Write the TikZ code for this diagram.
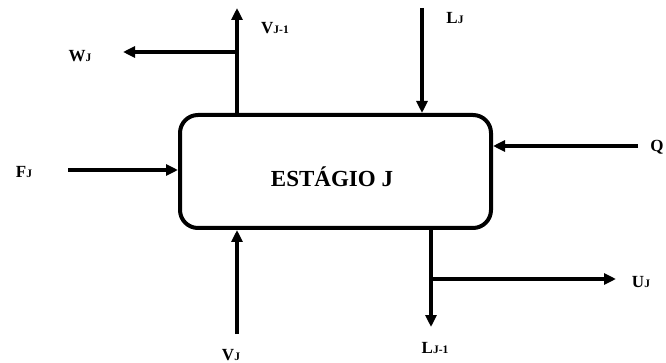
\documentclass[tikz,border=0pt]{standalone}
\usepackage{fontspec}
\setmainfont{Liberation Serif}
\usetikzlibrary{arrows.meta}
\newcommand\lsub[1]{{\fontsize{11.5}{11.5}\selectfont #1}}
\begin{document}
\begin{tikzpicture}[x=1pt,y=-1pt,
  flow/.style={line width=3.2pt,-{Triangle[length=12pt,width=11pt]}},
  lbl/.style={font=\fontsize{17}{17}\selectfont\bfseries, inner sep=0pt},
  stage/.style={draw,line width=4pt,rounded corners=18pt,minimum width=311pt,minimum height=113pt,inner sep=0pt}]
\useasboundingbox (0,0) rectangle (666,363);
\node[stage] (st) at (335.5,171.5) {};
\node[font=\fontsize{23}{23}\selectfont\bfseries, inner sep=0pt] (title) at (332,177) {ESTÁGIO J};

\coordinate (vtop) at (237,8);
\coordinate (wend) at (123,52);
\coordinate (ltop) at (422,8);
\coordinate (fstart) at (68,170);
\coordinate (qstart) at (638,146);
\coordinate (vbot) at (237,334);
\coordinate (lbot) at (431,327);
\coordinate (uend) at (616,279);

\draw[flow] (st.north -| vtop) -- (vtop);
\draw[flow] (vtop |- wend) -- (wend);
\draw[flow] (ltop) -- (ltop |- st.north);
\draw[flow] (fstart) -- (fstart -| st.west);
\draw[flow] (qstart) -- (qstart -| st.east);
\draw[flow] (vbot) -- (vbot |- st.south);
\draw[flow] (st.south -| lbot) -- (lbot);
\draw[flow] (lbot |- uend) -- (uend);

\node[lbl] (lvj1) at (275,28) {V\lsub{J-1}};
\node[lbl] (lwj) at (80,56) {W\lsub{J}};
\node[lbl] (lfj) at (24,172) {F\lsub{J}};
\node[lbl] (llj) at (455,18) {L\lsub{J}};
\node[lbl] (lq) at (657,147) {Q};
\node[lbl] (lvj) at (231,355) {V\lsub{J}};
\node[lbl] (luj) at (641,282) {U\lsub{J}};
\node[lbl] (llj1) at (435,348) {L\lsub{J-1}};
\end{tikzpicture}
\end{document}
